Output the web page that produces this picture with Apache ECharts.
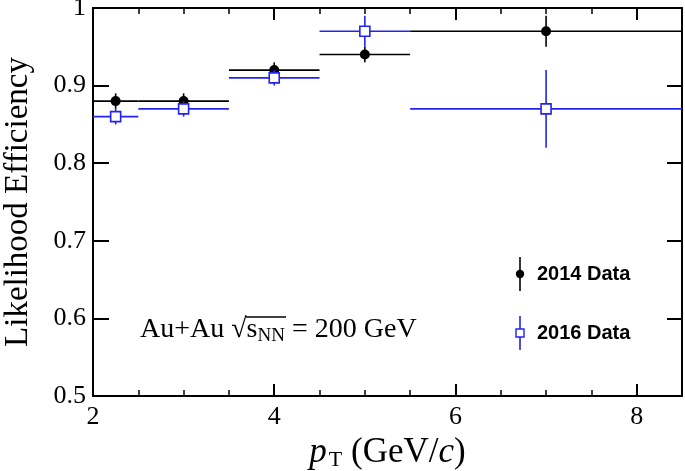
<!DOCTYPE html>
<html>
<head>
<meta charset="utf-8">
<script src="https://cdn.jsdelivr.net/npm/echarts@6/dist/echarts.min.js"></script>
<style>html,body{margin:0;padding:0;background:#fff}#c{width:685px;height:471px}</style>
</head>
<body>
<div id="c"></div>
<script>
// ---- data ----
const binLow = [2, 2.5, 3.5, 4.5, 5.5];
const binHigh = [2.5, 3.5, 4.5, 5.5, 8.5];
const ptCenters = [2.25, 3, 4, 5, 7];
const eff2014 = [0.88, 0.88, 0.92, 0.94, 0.97];
const err2014 = [0.01, 0.01, 0.01, 0.01, 0.02];
const eff2016 = [0.86, 0.87, 0.91, 0.97, 0.87];
const err2016 = [0.01, 0.01, 0.01, 0.02, 0.05];
const xTicks = [2, 4, 6, 8];
const yTicks = [0.5, 0.6, 0.7, 0.8, 0.9, 1];
const seriesNames = ['2014 Data', '2016 Data'];

const BLACK = '#000000';
const BLUE = '#2323ee';
const SERIF = '"Liberation Serif", "Times New Roman", serif';
const SANS = '"Liberation Sans", Arial, sans-serif';

function errData(eff, err) {
  return ptCenters.map((x, i) => [x, eff[i], binLow[i], binHigh[i], err[i]]);
}
function errRender(color) {
  return function (params, api) {
    const x = api.value(0), y = api.value(1), lo = api.value(2), hi = api.value(3), e = api.value(4);
    const pL = api.coord([lo, y]), pR = api.coord([hi, y]);
    const pT = api.coord([x, y + e]), pB = api.coord([x, y - e]);
    return {
      type: 'group',
      children: [
        { type: 'line', shape: { x1: pL[0], y1: pL[1], x2: pR[0], y2: pR[1] }, style: { stroke: color, lineWidth: 1.6 } },
        { type: 'line', shape: { x1: pT[0], y1: pT[1], x2: pB[0], y2: pB[1] }, style: { stroke: color, lineWidth: 1.6 } }
      ]
    };
  };
}

const chart = echarts.init(document.getElementById('c'), null, { renderer: 'canvas' });
const axisLine = { show: true, lineStyle: { color: '#000', width: 2 } };
const option = {
  animation: false,
  backgroundColor: '#fff',
  grid: { left: 93, right: 3, top: 8, bottom: 75, containLabel: false, outerBoundsMode: 'none' },
  xAxis: [
    {
      type: 'value', min: 2, max: 8.5, interval: 2, position: 'bottom',
      axisLine: axisLine,
      axisTick: { show: true, inside: true, length: 12, lineStyle: { color: '#000', width: 2 } },
      minorTick: { show: true, splitNumber: 4, length: 6, lineStyle: { color: '#000', width: 1.5 } },
      splitLine: { show: false },
      axisLabel: {
        show: true, margin: 8, color: '#000', fontFamily: SERIF, fontSize: 26,
        showMaxLabel: false,
        formatter: v => (xTicks.indexOf(v) >= 0 ? String(v) : '')
      },
      name: '{p|p}{sub|T}{n| (GeV/}{c|c}{n|)}',
      nameLocation: 'middle', nameGap: 29,
      nameTextStyle: {
        rich: {
          p: { fontFamily: SERIF, fontStyle: 'italic', fontSize: 35, color: '#000' },
          sub: { fontFamily: SERIF, fontSize: 22, color: '#000', verticalAlign: 'bottom', padding: [15, 0, 0, 2] },
          n: { fontFamily: SERIF, fontSize: 35, color: '#000' },
          c: { fontFamily: SERIF, fontStyle: 'italic', fontSize: 35, color: '#000' }
        }
      }
    },
    {
      type: 'value', min: 2, max: 8.5, interval: 2, position: 'top',
      axisLine: axisLine,
      axisTick: { show: true, inside: true, length: 12, lineStyle: { color: '#000', width: 2 } },
      minorTick: { show: true, splitNumber: 4, length: 6, lineStyle: { color: '#000', width: 1.5 } },
      splitLine: { show: false },
      axisLabel: { show: false }
    }
  ],
  yAxis: [
    {
      type: 'value', min: 0.5, max: 1, interval: 0.1, position: 'left',
      axisLine: axisLine,
      axisTick: { show: true, inside: true, length: 16, lineStyle: { color: '#000', width: 2 } },
      splitLine: { show: false },
      axisLabel: {
        show: true, margin: 7, color: '#000', fontFamily: SERIF, fontSize: 26,
        formatter: v => {
          const t = yTicks.find(k => Math.abs(k - v) < 1e-9);
          return t === undefined ? '' : (t === 1 ? '1' : t.toFixed(1));
        }
      },
      name: 'Likelihood Efficiency',
      nameLocation: 'middle', nameGap: 58,
      nameTextStyle: { fontFamily: SERIF, fontSize: 33, color: '#000' }
    },
    {
      type: 'value', min: 0.5, max: 1, interval: 0.1, position: 'right',
      axisLine: axisLine,
      axisTick: { show: true, inside: true, length: 15, lineStyle: { color: '#000', width: 2 } },
      splitLine: { show: false },
      axisLabel: { show: false }
    }
  ],
  series: [
    {
      name: seriesNames[0] + ' err', type: 'custom', xAxisIndex: 0, yAxisIndex: 0,
      data: errData(eff2014, err2014), renderItem: errRender(BLACK),
      encode: { x: 0, y: 1 }, z: 2, silent: true
    },
    {
      name: seriesNames[0], type: 'scatter', xAxisIndex: 0, yAxisIndex: 0,
      data: ptCenters.map((x, i) => [x, eff2014[i]]),
      symbol: 'circle', symbolSize: 10,
      itemStyle: { color: BLACK, opacity: 1 }, z: 3
    },
    {
      name: seriesNames[1] + ' err', type: 'custom', xAxisIndex: 0, yAxisIndex: 0,
      data: errData(eff2016, err2016), renderItem: errRender(BLUE),
      encode: { x: 0, y: 1 }, z: 4, silent: true
    },
    {
      name: seriesNames[1], type: 'scatter', xAxisIndex: 0, yAxisIndex: 0,
      data: ptCenters.map((x, i) => [x, eff2016[i]]),
      symbol: 'rect', symbolSize: 10,
      itemStyle: { color: '#fff', borderColor: BLUE, borderWidth: 1.6, opacity: 1 }, z: 5
    }
  ],
  graphic: [
    // legend
    { type: 'line', shape: { x1: 520, y1: 257, x2: 520, y2: 291 }, style: { stroke: BLACK, lineWidth: 1.6 }, z: 10 },
    { type: 'circle', shape: { cx: 520, cy: 274, r: 4.2 }, style: { fill: BLACK }, z: 11 },
    { type: 'text', left: 537, top: 264, style: { text: seriesNames[0], font: 'bold 20px ' + SANS, fill: '#000' }, z: 10 },
    { type: 'line', shape: { x1: 520, y1: 316, x2: 520, y2: 350 }, style: { stroke: BLUE, lineWidth: 1.6 }, z: 10 },
    { type: 'rect', shape: { x: 516, y: 329, width: 8, height: 8 }, style: { fill: '#fff', stroke: BLUE, lineWidth: 1.4 }, z: 11 },
    { type: 'text', left: 537, top: 323, style: { text: seriesNames[1], font: 'bold 20px ' + SANS, fill: '#000' }, z: 10 },
    // annotation
    {
      type: 'text', left: 140, top: 316, z: 10,
      style: {
        text: '{a|Au+Au }{r|√}{s|s}{sub|NN}{a| = 200 GeV}',
        rich: {
          a: { fontFamily: SERIF, fontSize: 28, fill: '#000' },
          r: { fontFamily: SERIF, fontSize: 28, fill: '#000' },
          s: { fontFamily: SERIF, fontSize: 28, fill: '#000' },
          sub: { fontFamily: SERIF, fontSize: 19, fill: '#000', verticalAlign: 'bottom', padding: [12, 0, 0, 0] }
        }
      }
    },
    { type: 'line', shape: { x1: 246, y1: 317, x2: 286, y2: 317 }, style: { stroke: '#000', lineWidth: 1.3 }, z: 10 }
  ]
};
chart.setOption(option);
</script>
</body>
</html>
